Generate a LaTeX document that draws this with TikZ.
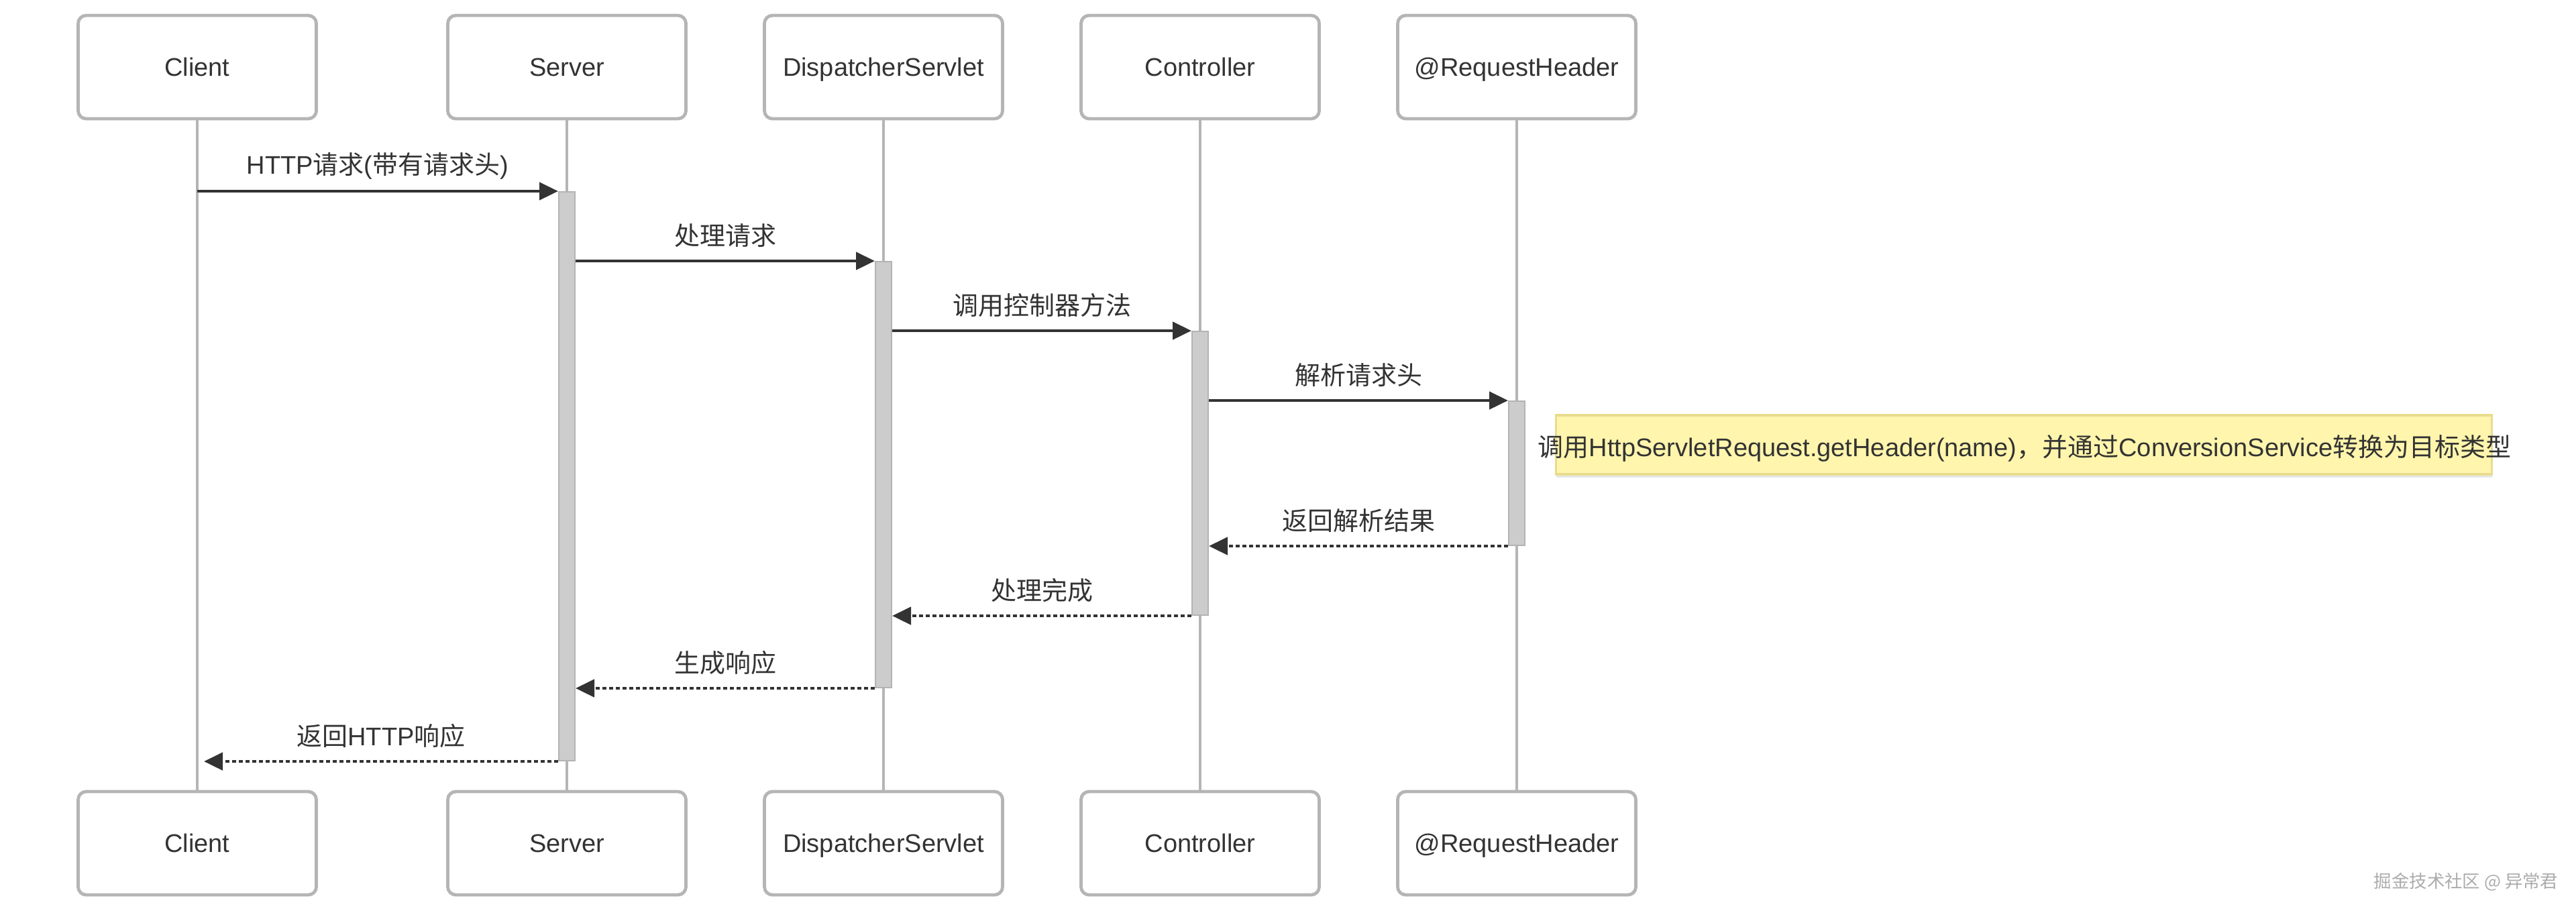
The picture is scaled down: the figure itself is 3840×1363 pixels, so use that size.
\documentclass[tikz,border=0pt]{standalone}
\usepackage{fontspec}
\setmainfont{Liberation Sans}
\newfontfamily\zh{Noto Sans CJK SC}
\usetikzlibrary{arrows.meta,shadows}
\definecolor{boxline}{HTML}{B5B5B5}
\definecolor{txt}{HTML}{333333}
\definecolor{barfill}{HTML}{CCCCCC}
\definecolor{barline}{HTML}{B3B3B3}
\definecolor{notefill}{HTML}{FFF5AD}
\definecolor{noteline}{HTML}{E8DC8E}
\begin{document}
\begin{tikzpicture}[x=0.25pt,y=-0.25pt,
  actor/.style={draw=boxline, line width=1.2pt, rounded corners=3pt, fill=white,
    minimum width=88.75pt, minimum height=38.5pt, inner sep=0pt,
    text height=8.8pt, text depth=2pt,
    font=\fontsize{9.5pt}{11pt}\selectfont, text=txt},
  life/.style={draw=boxline, line width=0.8pt},
  actbar/.style={draw=barline, fill=barfill, line width=0.5pt, inner sep=0pt,
    minimum width=6pt, anchor=north},
  msg/.style={draw=txt, line width=1.15pt, -{Triangle[length=7pt,width=6.5pt]}},
  ret/.style={msg, dash pattern=on 1.4pt off 1.1pt},
  lbl/.style={font=\fontsize{9.5pt}{11pt}\selectfont, text=txt, inner sep=0pt, yshift=9.5pt},
  notebox/.style={draw=noteline, fill=notefill, line width=0.8pt, inner sep=0pt,
    minimum width=348.75pt, minimum height=22pt,
    drop shadow={shadow xshift=0pt, shadow yshift=-1.2pt, opacity=0.18}},
  notetext/.style={font=\fontsize{9.5pt}{11pt}\selectfont, text=txt, inner sep=0pt},
  wmark/.style={font=\zh\fontsize{6.6pt}{7pt}\selectfont, text=gray!65, inner sep=0pt}
]
\path[use as bounding box, fill=white] (0,0) rectangle (3840,1363);

% actors top
\node[actor] (cT) at (294,100) {Client};
\node[actor] (sT) at (845,100) {Server};
\node[actor] (dT) at (1317,100) {DispatcherServlet};
\node[actor] (kT) at (1789,100) {Controller};
\node[actor] (rT) at (2261,100) {@RequestHeader};
% actors bottom
\node[actor] (cB) at (294,1257) {Client};
\node[actor] (sB) at (845,1257) {Server};
\node[actor] (dB) at (1317,1257) {DispatcherServlet};
\node[actor] (kB) at (1789,1257) {Controller};
\node[actor] (rB) at (2261,1257) {@RequestHeader};

% lifelines
\draw[life] (cT.south) -- (cB.north);
\draw[life] (sT.south) -- (sB.north);
\draw[life] (dT.south) -- (dB.north);
\draw[life] (kT.south) -- (kB.north);
\draw[life] (rT.south) -- (rB.north);

% activation bars
\node[actbar, minimum height=212pt] (sBar) at (845,285) {};
\node[actbar, minimum height=158.75pt] (dBar) at (1317,389) {};
\node[actbar, minimum height=105.75pt] (kBar) at (1789,493) {};
\node[actbar, minimum height=53.75pt] (rBar) at (2261,597) {};

% messages
\draw[msg] (cT.south |- sBar.north) -- node[lbl]{HTTP{\zh 请求}({\zh 带有请求头})} (sBar.north west);
\draw[msg] (sBar.east |- dBar.north) -- node[lbl]{\zh 处理请求} (dBar.north west);
\draw[msg] (dBar.east |- kBar.north) -- node[lbl]{\zh 调用控制器方法} (kBar.north west);
\draw[msg] (kBar.east |- rBar.north) -- node[lbl]{\zh 解析请求头} (rBar.north west);

% note
\node[notebox] (note) at (3017,663) {};
\node[notetext] (noteText) at (3018,668) {{\zh 调用}HttpServletRequest.getHeader(name){\zh ，并通过}ConversionService{\zh 转换为目标类型}};

% returns
\draw[ret] (rBar.south west) -- node[lbl]{\zh 返回解析结果} (kBar.east |- rBar.south);
\draw[ret] (kBar.south west) -- node[lbl]{\zh 处理完成} (dBar.east |- kBar.south);
\draw[ret] (dBar.south west) -- node[lbl]{\zh 生成响应} (sBar.east |- dBar.south);
\path (cT.south |- sBar.south) ++(10,0) coordinate (cEnd);
\draw[ret] (sBar.south west) -- node[lbl]{{\zh 返回}HTTP{\zh 响应}} (cEnd);

% watermark
\node[wmark] (wm) at (3676,1315) {掘金技术社区 @ 异常君};
\end{tikzpicture}
\end{document}
